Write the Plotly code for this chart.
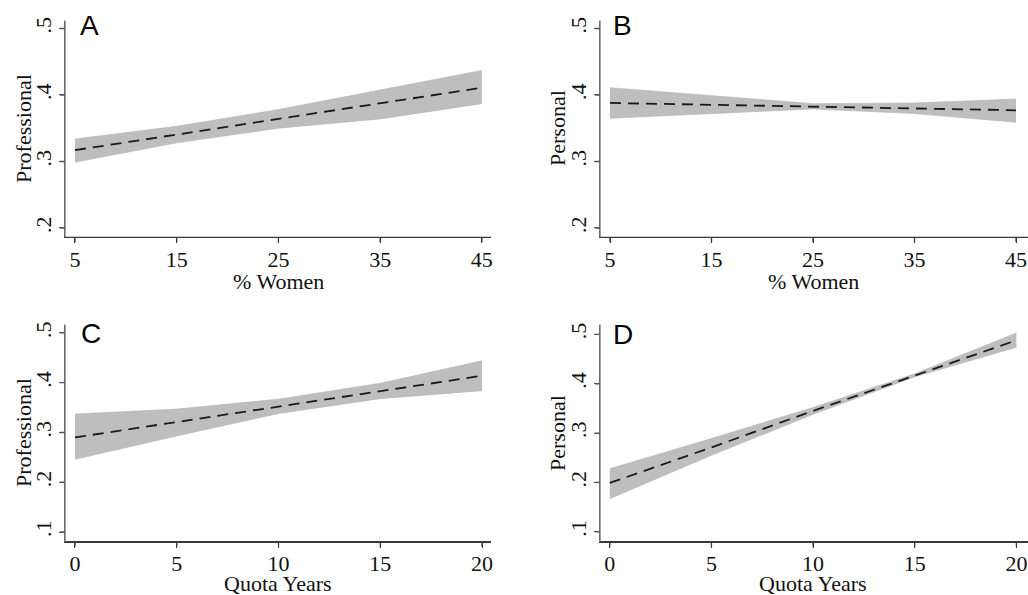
import plotly.graph_objects as go

# ---------------- data ----------------
women_x = [5, 15, 25, 35, 45]
quota_x = [0, 5, 10, 15, 20]

a_mean = [0.317, 0.3405, 0.364, 0.3875, 0.411]
a_lo = [0.299, 0.328, 0.350, 0.364, 0.387]
a_hi = [0.334, 0.353, 0.378, 0.407, 0.437]

b_mean = [0.388, 0.385, 0.383, 0.380, 0.377]
b_lo = [0.365, 0.372, 0.379, 0.372, 0.359]
b_hi = [0.411, 0.399, 0.387, 0.388, 0.394]

c_mean = [0.290, 0.321, 0.352, 0.383, 0.414]
c_lo = [0.246, 0.293, 0.338, 0.368, 0.384]
c_hi = [0.337, 0.347, 0.367, 0.399, 0.444]

d_mean = [0.199, 0.271, 0.345, 0.417, 0.488]
d_lo = [0.167, 0.255, 0.338, 0.414, 0.474]
d_hi = [0.228, 0.289, 0.352, 0.420, 0.503]

panel_letters = ["A", "B", "C", "D"]
y_titles = ["Professional", "Personal", "Professional", "Personal"]
x_titles = ["% Women", "% Women", "Quota Years", "Quota Years"]

women_ticks = [5, 15, 25, 35, 45]
quota_ticks = [0, 5, 10, 15, 20]
y_ticks_top = [0.2, 0.3, 0.4, 0.5]
y_ticks_bot = [0.1, 0.2, 0.3, 0.4, 0.5]
y_ticktext_top = [".2", ".3", ".4", ".5"]
y_ticktext_bot = [".1", ".2", ".3", ".4", ".5"]

# ---------------- figure ----------------
W, H = 1028, 595
fig = go.Figure()

panels = [
    (women_x, a_mean, a_lo, a_hi),
    (women_x, b_mean, b_lo, b_hi),
    (quota_x, c_mean, c_lo, c_hi),
    (quota_x, d_mean, d_lo, d_hi),
]

band_color = "#bebebe"
for i, (xs, m, lo, hi) in enumerate(panels):
    xa = "x" if i == 0 else f"x{i+1}"
    ya = "y" if i == 0 else f"y{i+1}"
    fig.add_trace(go.Scatter(x=xs, y=lo, mode="lines", line=dict(width=0.6, color="#b4b4b4"),
                             xaxis=xa, yaxis=ya))
    fig.add_trace(go.Scatter(x=xs, y=hi, mode="lines", line=dict(width=0.6, color="#b4b4b4"),
                             fill="tonexty", fillcolor=band_color, xaxis=xa, yaxis=ya))
    fig.add_trace(go.Scatter(x=xs, y=m, mode="lines",
                             line=dict(color="#1a1a1a", width=1.8, dash="11px,7px"),
                             xaxis=xa, yaxis=ya))

# panel geometry in page pixels
x_px = [(65, 491), (600, 1028), (65, 491), (600, 1028)]
y_px = [(20.5, 237.3), (20.5, 237.3), (324.5, 541.7), (324.5, 541.7)]
x_doms = [[a / W, b / W] for a, b in x_px]
y_doms = [[1 - b / H, 1 - a / H] for a, b in y_px]
x_ranges = [[4.02, 45.9], [4.015, 46.18], [-0.49, 20.44], [-0.48, 20.57]]
y_ranges = [[0.186, 0.512], [0.186, 0.512], [0.0805, 0.517], [0.080, 0.52]]

serif = "Liberation Serif, Times New Roman, serif"
fs = 22
txt = "#111111"
xline = "#3a3a3a"
yline = "#6e6e6e"
TICK = 5

axes = {}
shapes = []
for i in range(4):
    xk = "xaxis" if i == 0 else f"xaxis{i+1}"
    yk = "yaxis" if i == 0 else f"yaxis{i+1}"
    ya = "y" if i == 0 else f"y{i+1}"
    xa = "x" if i == 0 else f"x{i+1}"
    top = i < 2
    xt = women_ticks if top else quota_ticks
    yt = y_ticks_top if top else y_ticks_bot
    axes[xk] = dict(
        domain=x_doms[i], range=x_ranges[i], anchor=ya, automargin=False,
        tickmode="array", tickvals=xt, ticktext=[str(t) for t in xt],
        showgrid=False, zeroline=False,
        showline=True, linecolor=xline, linewidth=1,
        ticks="outside", ticklen=TICK, tickcolor=xline, tickwidth=1,
        ticklabelstandoff=-3,
        tickfont=dict(family=serif, size=fs, color=txt),
    )
    axes[yk] = dict(
        domain=y_doms[i], range=y_ranges[i], anchor=xa, automargin=False,
        tickmode="array", tickvals=yt,
        ticktext=y_ticktext_top if top else y_ticktext_bot,
        tickangle=-90,
        showgrid=False, zeroline=False,
        showline=True, linecolor=yline, linewidth=1,
        ticks="outside", ticklen=TICK, tickcolor="#555555", tickwidth=1,
        ticklabelstandoff=-1,
        tickfont=dict(family=serif, size=fs, color=txt),
    )
    # axis lines and tick marks drawn explicitly as well (coincide with the native ones)
    pw = x_px[i][1] - x_px[i][0]
    ph = y_px[i][1] - y_px[i][0]
    shapes.append(dict(type="line", xref=f"{xa} domain", yref=f"{ya} domain",
                       x0=0, x1=1, y0=0, y1=0, line=dict(color=xline, width=1.3)))
    shapes.append(dict(type="line", xref=f"{xa} domain", yref=f"{ya} domain",
                       x0=0, x1=0, y0=0, y1=1, line=dict(color=yline, width=1.3)))
    for t in xt:
        shapes.append(dict(type="line", xref=xa, yref=f"{ya} domain",
                           x0=t, x1=t, y0=0, y1=-TICK / ph, line=dict(color=xline, width=1.3)))
    for t in yt:
        shapes.append(dict(type="line", xref=f"{xa} domain", yref=ya,
                           x0=0, x1=-TICK / pw, y0=t, y1=t, line=dict(color="#555555", width=1.3)))

annotations = []
letter_x = [78, 611, 79, 611]
letter_y = [26, 26, 333, 334]
for i, letter in enumerate(panel_letters):
    annotations.append(dict(
        text=letter, xref="paper", yref="paper", x=letter_x[i] / W, y=1 - letter_y[i] / H,
        xanchor="left", yanchor="middle", showarrow=False,
        font=dict(family="Liberation Sans, Arial, sans-serif", size=28, color="#000000")))

xt_pos = [(278, 281), (813, 281), (278, 583), (813, 583)]
yt_pos = [(23, 129), (557, 128), (23, 433), (557, 433)]
for i in range(4):
    annotations.append(dict(
        text=x_titles[i], xref="paper", yref="paper",
        x=xt_pos[i][0] / W, y=1 - xt_pos[i][1] / H, xanchor="center", yanchor="middle",
        showarrow=False, font=dict(family=serif, size=fs, color=txt)))
    annotations.append(dict(
        text=y_titles[i], xref="paper", yref="paper", textangle=-90,
        x=yt_pos[i][0] / W, y=1 - yt_pos[i][1] / H, xanchor="center", yanchor="middle",
        showarrow=False, font=dict(family=serif, size=fs, color=txt)))

fig.update_layout(
    width=W, height=H,
    margin=dict(l=0, r=0, t=0, b=0, autoexpand=False),
    paper_bgcolor="white", plot_bgcolor="white",
    showlegend=False,
    annotations=annotations,
    shapes=shapes,
    **axes,
)

fig.write_html("out.html", config={"displayModeBar": False},
               post_script="document.body.style.margin='0';")
